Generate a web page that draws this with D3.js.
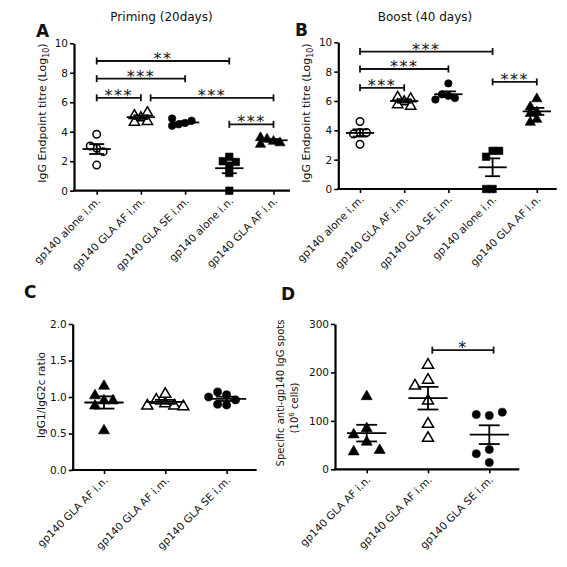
<!DOCTYPE html>
<html><head><meta charset="utf-8">
<script src="https://cdn.jsdelivr.net/npm/d3@7"></script>
<style>
html,body{margin:0;padding:0;background:#fff;}
text{font-family:"DejaVu Sans",Verdana,sans-serif;fill:#111;}
</style></head>
<body>
<svg id="c" width="567" height="567"></svg>
<script>
// ---------- data ----------
const catsAB = ["gp140 alone i.m.","gp140 GLA AF i.m.","gp140 GLA SE i.m.","gp140 alone i.n.","gp140 GLA AF i.n."];
const catsCD = ["gp140 GLA AF i.n.","gp140 GLA AF i.m.","gp140 GLA SE i.m."];
const shapesAB = ["circleOpen","triangleOpen","circle","square","triangle"];
const shapesCD = ["triangle","triangleOpen","circle"];

const primingValues = [
  [3.83,2.88,3.03,2.65,1.74],
  [5.0,5.15,5.35,4.7,4.75],
  [4.6,4.5,4.75,4.4,4.9],
  [2.3,2.0,1.95,1.7,1.2,0.0],
  [3.4,3.55,3.3,3.65,3.2]
];
const boostValues = [
  [3.85,4.6,3.75,3.85,3.05],
  [6.0,6.3,6.2,5.8,5.7],
  [7.2,6.35,6.45,6.2,6.1],
  [2.6,2.2,2.6,0,0],
  [5.3,6.2,5.65,5.2,4.8,4.6]
];
const ratioValues = [
  [1.16,0.96,1.03,0.89,0.96,0.55],
  [0.92,1.05,0.97,0.89,0.89,0.88],
  [1.03,1.07,0.96,1.0,0.89,0.9]
];
const spotValues = [
  [152,86,73,58,38,41],
  [217,186,174,143,95,66],
  [111,113,118,41,32,14]
];

const primingSig = [
  {from:0,to:3,y:8.8,label:"**"},
  {from:0,to:2,y:7.6,label:"***"},
  {from:0,to:1,y:6.3,label:"***"},
  {from:1.22,to:4,y:6.3,label:"***"},
  {from:3,to:4,y:4.5,label:"***"}
];
const boostSig = [
  {from:0,to:3,y:9.37,label:"***"},
  {from:0,to:2,y:8.18,label:"***"},
  {from:0,to:1,y:6.9,label:"***"},
  {from:3,to:4,y:7.3,label:"***"}
];
const spotSig = [{from:1.07,to:2.07,y:246,label:"*"}];

const ticksAB = [0,2,4,6,8,10];
const ticksC = [0,0.5,1.0,1.5,2.0];
const ticksD = [0,100,200,300];

// ---------- drawing ----------
const svg = d3.select("#c");
svg.append("rect").attr("width",567).attr("height",567).attr("fill","#fff");

function panel(o){
  const g = svg.append("g");
  const n = o.cats.length;
  const x = d3.scaleLinear().domain([0,n-1]).range([o.x0, o.x0+o.step*(n-1)]);
  const y = d3.scaleLinear().domain(o.yDomain).range([o.yBot,o.yTop]);

  // y axis
  const ya = g.append("g").attr("transform",`translate(${o.yAxisX},0)`)
    .call(d3.axisLeft(y).tickValues(o.ticks).tickSize(4).tickSizeOuter(0).tickPadding(2).tickFormat(o.fmt));
  ya.select(".domain").attr("stroke","#000").attr("stroke-width",2.2);
  ya.selectAll(".tick line").attr("stroke","#000").attr("stroke-width",1.6);
  ya.selectAll(".tick text").style("font-size","10.5px").attr("fill","#222");

  // x axis
  const xa = g.append("g").attr("transform",`translate(0,${o.yBot})`)
    .call(d3.axisBottom(x).tickValues(d3.range(n)).tickFormat(i=>o.cats[i]).tickSize(4).tickSizeOuter(0));
  xa.select(".domain").remove();
  xa.append("line").attr("x1",o.yAxisX-1).attr("x2",o.xEnd).attr("stroke","#000").attr("stroke-width",2.2);
  xa.selectAll(".tick line").attr("stroke","#000").attr("stroke-width",1.6);
  xa.selectAll(".tick text").style("font-size","10.5px").attr("fill","#222")
    .attr("text-anchor","end").attr("dy",0)
    .attr("transform","translate(4,11) rotate(-45)").attr("y",0).attr("x",0);

  // data
  const thr = o.thr;
  o.values.forEach((vals,gi)=>{
    const cx = x(gi);
    const placed = [];
    vals.forEach(v=>{
      const py = y(v);
      const offs=[0,-1,1,-2,2,-3,3];
      let px = cx;
      for(const k of offs){
        const tx = cx + k*o.dx;
        if(placed.every(p=>Math.hypot(p[0]-tx,p[1]-py)>=thr)){px=tx;break;}
      }
      placed.push([px,py]);
      const sh = o.shapes[gi];
      const open = sh.endsWith("Open");
      const base = sh.replace("Open","");
      const type = base==="circle"?d3.symbolCircle:base==="square"?d3.symbolSquare:d3.symbolTriangle;
      const size = (base==="circle"?44:base==="square"?56:46)*o.msize;
      g.append("path").attr("d",d3.symbol().type(type).size(size)())
        .attr("transform",`translate(${px},${py+(base==="triangle"?0.8:0)})`)
        .attr("fill",open?"#fff":"#000").attr("stroke","#000").attr("stroke-width",open?1.5:0.6);
    });
    const m = d3.mean(vals), sem = d3.deviation(vals)/Math.sqrt(vals.length);
    const mh = 0.32*o.step, ch = 0.17*o.step;
    const ln = (x1,y1,x2,y2)=>g.append("line").attr("x1",x1).attr("y1",y1).attr("x2",x2).attr("y2",y2)
      .attr("stroke","#000").attr("stroke-width",1.8);
    ln(cx-mh,y(m),cx+mh,y(m));
    ln(cx,y(m-sem),cx,y(m+sem));
    ln(cx-ch,y(m+sem),cx+ch,y(m+sem));
    ln(cx-ch,y(m-sem),cx+ch,y(m-sem));
  });

  // significance bars
  o.sig.forEach(s=>{
    const x1=x(s.from), x2=x(s.to), yy=y(s.y);
    const ln = (a,b,c,d)=>g.append("line").attr("x1",a).attr("y1",b).attr("x2",c).attr("y2",d)
      .attr("stroke","#111").attr("stroke-width",1.8);
    ln(x1,yy,x2,yy); ln(x1,yy-3.5,x1,yy+3.5); ln(x2,yy-3.5,x2,yy+3.5);
    g.append("text").attr("x",(x1+x2)/2).attr("y",yy+3).attr("text-anchor","middle")
      .style("font-size","16px").style("letter-spacing","1.5px").attr("fill","#444").text(s.label);
  });

  // y title
  const t = g.append("text").attr("transform",`translate(${o.yTitleX},${o.yTitleY}) rotate(-90)`)
    .attr("text-anchor","middle").style("font-size",o.yTitleSize+"px");
  o.yTitle(t);
  // letter
  svg.append("text").attr("x",o.letter[1]).attr("y",o.letter[2]).text(o.letter[0])
    .style("font-size","17px").style("font-weight","bold").attr("fill","#000");
  if(o.title) svg.append("text").attr("x",o.title[1]).attr("y",21).attr("text-anchor","middle")
    .style("font-size","12px").text(o.title[0]);
}

panel({cats:catsAB,shapes:shapesAB,values:primingValues,sig:primingSig,ticks:ticksAB,fmt:d3.format("d"),
  yDomain:[0,10],yAxisX:74,xEnd:290,yTop:43.3,yBot:190.7,x0:96.7,step:44.2,thr:6.5,dx:6.5,msize:1,
  yTitleX:46,yTitleY:113,yTitleSize:11,
  yTitle:t=>{t.append("tspan").text("IgG Endpoint titre (Log");t.append("tspan").attr("dy",3).style("font-size","8px").text("10");t.append("tspan").attr("dy",-3).text(")");},
  letter:["A",36,37],title:["Priming (20days)",161.5]});
panel({cats:catsAB,shapes:shapesAB,values:boostValues,sig:boostSig,ticks:ticksAB,fmt:d3.format("d"),
  yDomain:[0,10],yAxisX:338.3,xEnd:556.7,yTop:42.3,yBot:189,x0:360,step:44.2,thr:6.5,dx:6.5,msize:1,
  yTitleX:310,yTitleY:113,yTitleSize:11,
  yTitle:t=>{t.append("tspan").text("IgG Endpoint titre (Log");t.append("tspan").attr("dy",3).style("font-size","8px").text("10");t.append("tspan").attr("dy",-3).text(")");},
  letter:["B",295,35.5],title:["Boost (40 days)",425]});
panel({cats:catsCD,shapes:shapesCD,values:ratioValues,sig:[],ticks:ticksC,fmt:d3.format(".1f"),
  yDomain:[0,2],yAxisX:72.7,xEnd:256.7,yTop:324,yBot:470,x0:104,step:61.3,thr:9,dx:9,msize:1.15,
  yTitleX:45,yTitleY:395,yTitleSize:10.5,
  yTitle:t=>{t.text("IgG1/IgG2c ratio");},
  letter:["C",24,298]});
panel({cats:catsCD,shapes:shapesCD,values:spotValues,sig:spotSig,ticks:ticksD,fmt:d3.format("d"),
  yDomain:[0,300],yAxisX:335,xEnd:519.3,yTop:324,yBot:469.3,x0:366.7,step:61.3,thr:13,dx:13,msize:1.15,
  yTitleX:284,yTitleY:393,yTitleSize:10,
  yTitle:t=>{t.append("tspan").attr("x",0).attr("dy",0).text("Specific anti-gp140 IgG spots");
    const s=t.append("tspan").attr("x",-15).attr("dy",14);
    s.append("tspan").text("(10");s.append("tspan").attr("dy",-4).style("font-size","7px").text("6");s.append("tspan").attr("dy",4).text(" cells)");},
  letter:["D",281,300]});
</script>
</body></html>
